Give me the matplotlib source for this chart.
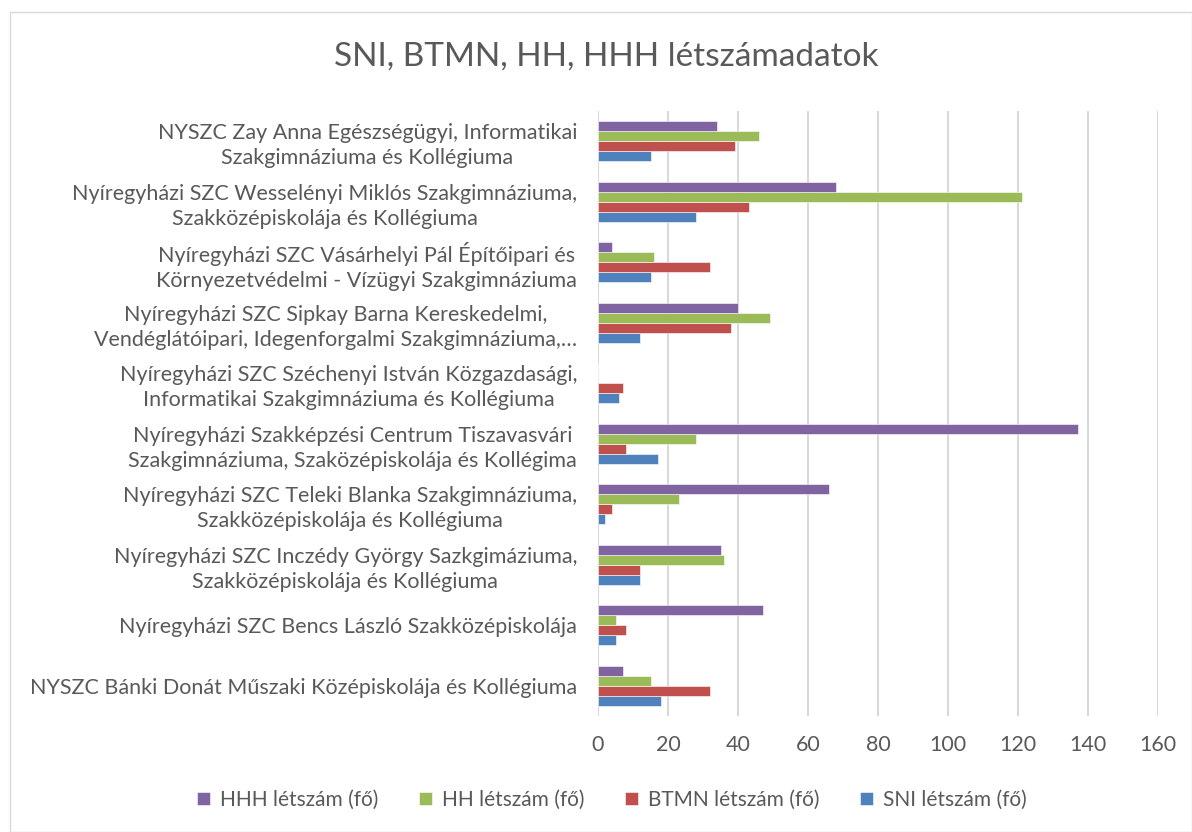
import matplotlib
matplotlib.use("Agg")
import matplotlib.pyplot as plt
import numpy as np
from matplotlib.patches import Rectangle

plt.rcParams['font.family'] = ['Lato', 'DejaVu Sans']

categories = [
    "NYSZC Bánki Donát Műszaki Középiskolája és Kollégiuma",
    "Nyíregyházi SZC Bencs László Szakközépiskolája",
    "Nyíregyházi SZC Inczédy György Sazkgimáziuma,\nSzakközépiskolája és Kollégiuma",
    "Nyíregyházi SZC Teleki Blanka Szakgimnáziuma,\nSzakközépiskolája és Kollégiuma",
    "Nyíregyházi Szakképzési Centrum Tiszavasvári\nSzakgimnáziuma, Szaközépiskolája és Kollégima",
    "Nyíregyházi SZC Széchenyi István Közgazdasági,\nInformatikai Szakgimnáziuma és Kollégiuma",
    "Nyíregyházi SZC Sipkay Barna Kereskedelmi,\nVendéglátóipari, Idegenforgalmi Szakgimnáziuma,…",
    "Nyíregyházi SZC Vásárhelyi Pál Építőipari és\nKörnyezetvédelmi - Vízügyi Szakgimnáziuma",
    "Nyíregyházi SZC Wesselényi Miklós Szakgimnáziuma,\nSzakközépiskolája és Kollégiuma",
    "NYSZC Zay Anna Egészségügyi, Informatikai\nSzakgimnáziuma és Kollégiuma",
]
sni  = [18, 5, 12, 2, 17, 6, 12, 15, 28, 15]
btmn = [32, 8, 12, 4, 8, 7, 38, 32, 43, 39]
hh   = [15, 5, 36, 23, 28, 0, 49, 16, 121, 46]
hhh  = [7, 47, 35, 66, 137, 0, 40, 4, 68, 34]

series = [
    ("SNI létszám (fő)", sni, "#4F81BD"),
    ("BTMN létszám (fő)", btmn, "#C0504D"),
    ("HH létszám (fő)", hh, "#9BBB59"),
    ("HHH létszám (fő)", hhh, "#8064A2"),
]
xticks = [0, 20, 40, 60, 80, 100, 120, 140, 160]

fig = plt.figure(figsize=(11.92, 8.32), dpi=100)
ax = fig.add_axes([598/1192, 1-716/832, (1158-598)/1192, (716-111)/832])

y = np.arange(len(categories))
bw = 0.1667
handles = {}
for i, (name, vals, col) in enumerate(series):
    b = ax.barh(y + (i - 1.5) * bw, vals, height=bw, color=col,
                edgecolor='white', linewidth=0.4, zorder=3, label=name)
    handles[name] = b

ax.set_xlim(0, 160)
ax.set_ylim(-0.5, len(categories) - 0.5)
ax.set_xticks(xticks)
ax.set_xticklabels([str(t) for t in xticks], fontsize=15.5)
ax.set_yticks(y)
ax.set_yticklabels(categories, multialignment='center', fontsize=15.5, linespacing=1.3)
ax.tick_params(axis='both', length=0, colors='#595959')
ax.tick_params(axis='x', pad=14)
ax.tick_params(axis='y', pad=15)
ax.grid(axis='x', color='#D9D9D9', linewidth=1.5, zorder=0)
for s in ['top', 'right', 'bottom', 'left']:
    ax.spines[s].set_visible(False)

fig.suptitle("SNI, BTMN, HH, HHH létszámadatok", x=606/1192, y=1-57/832,
             va='center', fontsize=24, color='#595959')

order = ["HHH létszám (fő)", "HH létszám (fő)", "BTMN létszám (fő)", "SNI létszám (fő)"]
fig.legend([handles[n] for n in order], order, loc='center',
           bbox_to_anchor=(612/1192, 1-800/832), ncol=4, frameon=False,
           fontsize=15, labelcolor='#595959', handlelength=0.6, handleheight=0.6,
           columnspacing=1.95, handletextpad=0.5)

fig.patches.append(Rectangle((10/1192, 0), 1-10/1192, 1-12/832, transform=fig.transFigure,
                             fill=False, edgecolor='#D9D9D9', linewidth=1))

fig.savefig("out.png", dpi=100, facecolor='white')
